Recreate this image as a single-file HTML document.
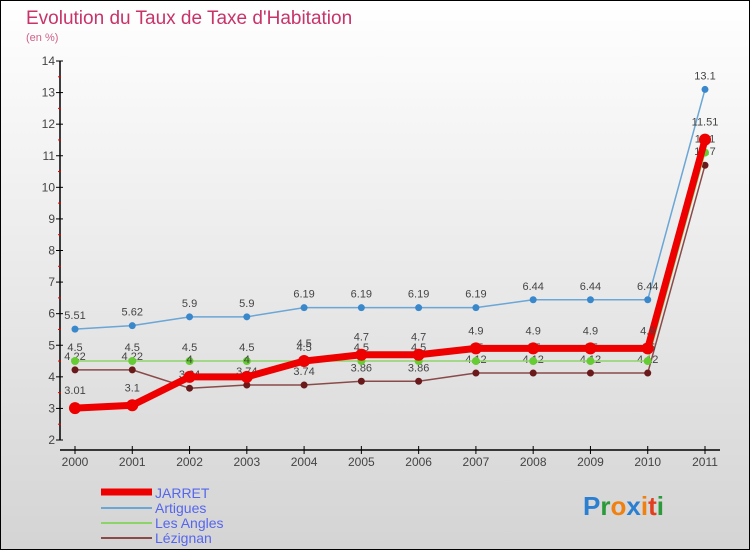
<!DOCTYPE html>
<html><head><meta charset="utf-8"><style>
html,body{margin:0;padding:0}
body{width:750px;height:550px;overflow:hidden;font-family:"Liberation Sans",sans-serif}
</style></head><body>
<svg width="750" height="550" xmlns="http://www.w3.org/2000/svg">
<defs><linearGradient id="bg" x1="0" y1="0" x2="0" y2="1"><stop offset="0" stop-color="#ffffff"/><stop offset="1" stop-color="#d4d4d4"/></linearGradient></defs>
<rect x="0.5" y="0.5" width="749" height="549" fill="url(#bg)" stroke="#000"/>
<text x="26" y="24" font-size="19" fill="#c8336a">Evolution du Taux de Taxe d'Habitation</text>
<text x="26" y="41" font-size="11" fill="#d0608a">(en %)</text>
<g id="axes"></g>
<g id="series"></g>
<g>
<line x1="101" y1="492" x2="152" y2="492" stroke="#e00" stroke-width="7"/>
<text x="155" y="498" font-size="14" fill="#5566ee">JARRET</text>
<line x1="101" y1="508" x2="152" y2="508" stroke="#6aa6d6" stroke-width="2"/>
<text x="155" y="513" font-size="14" fill="#5566ee">Artigues</text>
<line x1="101" y1="523" x2="152" y2="523" stroke="#8cd46a" stroke-width="2"/>
<text x="155" y="528" font-size="14" fill="#5566ee">Les Angles</text>
<line x1="101" y1="538" x2="152" y2="538" stroke="#8a4a4a" stroke-width="2"/>
<text x="155" y="543" font-size="14" fill="#5566ee">Lézignan</text>
</g>
<g font-size="26" font-weight="bold">
<text x="583" y="515"><tspan fill="#2a7fd0">P</tspan><tspan fill="#2a9a3a">r</tspan><tspan fill="#f08010">o</tspan><tspan fill="#2a7fd0">x</tspan><tspan fill="#f08010">i</tspan><tspan fill="#e04020">t</tspan><tspan fill="#2a9a3a">i</tspan></text>
</g>
</svg>
<script>
const years=["2000","2001","2002","2003","2004","2005","2006","2007","2008","2009","2010","2011"];
const yTicks=[2,3,4,5,6,7,8,9,10,11,12,13,14];
const jarret=[3.01,3.1,4,4,4.5,4.7,4.7,4.9,4.9,4.9,4.9,11.51];
const artigues=[5.51,5.62,5.9,5.9,6.19,6.19,6.19,6.19,6.44,6.44,6.44,13.1];
const lesAngles=[4.5,4.5,4.5,4.5,4.5,4.5,4.5,4.5,4.5,4.5,4.5,11.1];
const lezignan=[4.22,4.22,3.64,3.74,3.74,3.86,3.86,4.12,4.12,4.12,4.12,10.7];
const NS="http://www.w3.org/2000/svg";
function X(i){return 75+i*(630/11);}
function Y(v){return 440-(v-2)*(379/12);}
function mk(tag,attrs,parent){const e=document.createElementNS(NS,tag);for(const k in attrs)e.setAttribute(k,attrs[k]);parent.appendChild(e);return e;}
const ax=document.getElementById('axes');
const yl=mk('line',{x1:60,y1:Y(14),x2:60,y2:Y(2),stroke:'#000','stroke-width':1.5},ax);


const xl=mk('line',{x1:60,y1:450,x2:720,y2:450,stroke:'#000','stroke-width':1.5},ax);


yTicks.forEach((t,i)=>{
  mk('line',{x1:56,y1:Y(t),x2:63,y2:Y(t),stroke:'#000'},ax);
  if(i<yTicks.length-1) mk('line',{x1:58,y1:Y(t+0.5),x2:61,y2:Y(t+0.5),stroke:'#e00'},ax);
  const tx=mk('text',{x:55,y:Y(t)+4,'font-size':12,'text-anchor':'end',fill:'#444'},ax);
  tx.textContent=t;
  
  
});
years.forEach((y,i)=>{
  mk('line',{x1:X(i),y1:446,x2:X(i),y2:454,stroke:'#000'},ax);
  const tx=mk('text',{x:X(i),y:466,'font-size':12,'text-anchor':'middle',fill:'#444'},ax);
  tx.textContent=y;
  
  
});
const sg=document.getElementById('series');
function series(data,name,color,w,r,ptColor,labelDy){
  const g=mk('g',{},sg);
  
  
  mk('polyline',{points:data.map((v,i)=>X(i)+','+Y(v)).join(' '),fill:'none',stroke:color,'stroke-width':w,'stroke-linejoin':'round'},g);
  data.forEach((v,i)=>{
    const c=mk('circle',{cx:X(i),cy:Y(v),r:r,fill:ptColor},g);
    
    
    const t=mk('text',{x:X(i),y:Y(v)+labelDy,'font-size':11,'text-anchor':'middle',fill:'#444'},g);
    t.textContent=v;
    
    
  });
}
series(lezignan,'lezignan','#8a4a4a',1.5,3.5,'#6a1a1a',-10);
series(lesAngles,'les-angles','#8cd46a',1.5,4,'#66cc33',-10);
series(artigues,'artigues','#6aa6d6',1.5,3.5,'#3a88cc',-10);
series(jarret,'jarret','#ee0000',7,6,'#ee0000',-14);
</script>
</body></html>
